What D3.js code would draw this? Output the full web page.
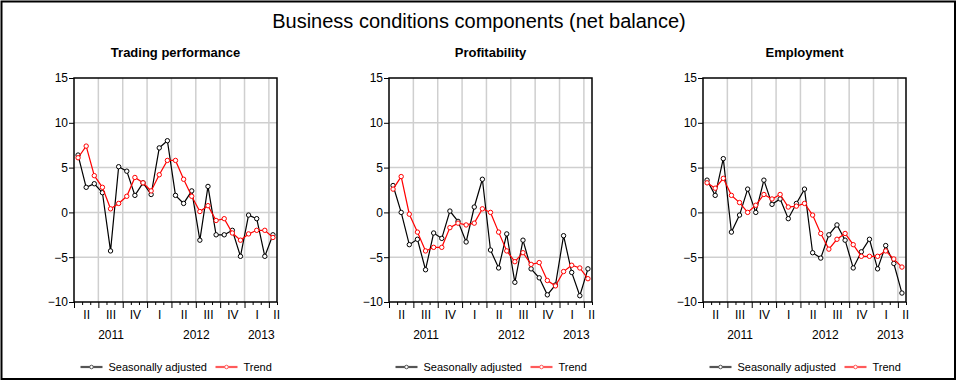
<!DOCTYPE html>
<meta charset="utf-8">
<style>
body { margin: 0; background: #fff; }
text { font-family: "Liberation Sans", Arial, sans-serif; fill: #000; }
.grid line { stroke: #cfcfcf; stroke-width: 1.5px; }
.axis path, .axis line { stroke: #000; }
.axis text { font-size: 12px; }
</style>
<svg width="959" height="382"></svg>
<script src="https://d3js.org/d3.v7.min.js"></script>
<script>

// monthly, April 2011 .. April 2013
var quarterLabels = ["II", "III", "IV", "I", "II", "III", "IV", "I", "II"];
var quarterPos = [1.5, 4.5, 7.5, 10.5, 13.5, 16.5, 19.5, 22.5, 24.9];
var years = ["2011", "2012", "2013"];
var yearPos = [4.5, 15, 23];
var yTicks = [-10, -5, 0, 5, 10, 15];

var tradingSA = [6.4, 2.8, 3.2, 2.2, -4.3, 5.1, 4.6, 1.9, 3.3, 2.0, 7.2, 8.0, 1.9,
  1.0, 2.4, -3.1, 2.9, -2.5, -2.5, -2.0, -4.9, -0.3, -0.7, -4.9, -2.5];
var tradingTrend = [6.1, 7.4, 4.1, 2.8, 0.4, 1.0, 1.8, 3.9, 3.3, 2.4, 4.2, 5.8, 5.8,
  3.7, 1.8, 0.1, 0.75, -0.9, -0.7, -2.3, -3.1, -2.4, -2.0, -2.0, -2.8];

var profitSA = [3.0, 0.0, -3.6, -3.0, -6.4, -2.3, -2.9, 0.15, -1.0, -3.3, 0.6, 3.7, -4.2,
  -6.2, -2.4, -7.8, -3.1, -6.3, -7.3, -9.2, -8.1, -2.6, -6.7, -9.3, -6.3];
var profitTrend = [2.6, 4.0, -0.2, -2.2, -4.3, -3.9, -3.9, -1.7, -1.2, -1.4, -1.2, 0.4, 0.0,
  -2.2, -4.3, -5.5, -4.5, -5.8, -5.6, -7.6, -8.2, -6.6, -5.9, -6.2, -7.4];

var employSA = [3.6, 1.9, 6.0, -2.2, -0.3, 2.6, 0.0, 3.6, 0.9, 1.5, -0.7, 1.0, 2.6,
  -4.5, -5.1, -2.5, -1.4, -3.1, -6.2, -4.4, -3.0, -6.3, -3.7, -5.7, -9.0];
var employTrend = [3.3, 2.7, 3.8, 1.9, 1.1, 0.0, 0.8, 2.0, 1.5, 2.0, 0.6, 0.7, 1.0,
  -0.3, -2.35, -4.1, -3.0, -2.35, -3.6, -4.9, -4.9, -4.9, -4.3, -5.2, -6.1];

var panels = [
  { title: "Trading performance", sa: tradingSA, trend: tradingTrend, left: 74 },
  { title: "Profitability", sa: profitSA, trend: profitTrend, left: 389 },
  { title: "Employment", sa: employSA, trend: employTrend, left: 703 }
];

var svg = d3.select("svg"),
    width = +svg.attr("width"),
    height = +svg.attr("height");

var plotW = 203, plotH = 224, plotTop = 78;

svg.append("rect")
    .attr("x", 1.5).attr("y", 1.5)
    .attr("width", 953.5).attr("height", 377.5)
    .attr("fill", "none").attr("stroke", "#000").attr("stroke-width", 2);

svg.append("text")
    .attr("x", 479).attr("y", 28)
    .attr("text-anchor", "middle")
    .style("font-size", "20px")
    .text("Business conditions components (net balance)");

var x = d3.scaleLinear().domain([0, 25]).range([0, plotW]);
var y = d3.scaleLinear().domain([-10, 15]).range([plotH, 0]);

var line = d3.line()
    .x(function(d, i) { return x(i + 0.5); })
    .y(function(d) { return y(d); });

panels.forEach(function(p) {
  var g = svg.append("g").attr("transform", "translate(" + p.left + "," + plotTop + ")");

  g.append("text")
      .attr("x", plotW / 2).attr("y", -21)
      .attr("text-anchor", "middle")
      .style("font-size", "13px").style("font-weight", "bold")
      .text(p.title);

  // grid
  var grid = g.append("g").attr("class", "grid");
  grid.selectAll(".v").data(d3.range(3, 25, 3)).enter().append("line")
      .attr("x1", x).attr("x2", x).attr("y1", 0).attr("y2", plotH);
  grid.selectAll(".h").data(yTicks.slice(1, -1)).enter().append("line")
      .attr("x1", 0).attr("x2", plotW).attr("y1", y).attr("y2", y);

  // axes
  g.append("g").attr("class", "axis")
      .call(d3.axisLeft(y).tickValues(yTicks).tickSize(5).tickFormat(d3.format("d")))
      .call(function(a) { a.select(".domain").remove(); })
      .selectAll("text").attr("x", -6);

  g.append("g").attr("class", "axis")
      .attr("transform", "translate(0," + plotH + ")")
      .call(d3.axisBottom(x).tickValues(d3.range(0, 26)).tickSizeInner(3).tickSizeOuter(0).tickFormat(""))
      .call(function(a) {
        a.select(".domain").remove();
        a.selectAll(".tick line").attr("y2", function(d) { return d % 3 === 0 ? 6 : 3; });
      });

  g.append("g").attr("class", "axis")
      .attr("transform", "translate(0," + (plotH + 5) + ")")
      .call(d3.axisBottom(x).tickValues(quarterPos).tickSize(0)
        .tickFormat(function(d, i) { return quarterLabels[i]; }))
      .call(function(a) { a.select(".domain").remove(); });

  g.append("g").attr("class", "axis")
      .attr("transform", "translate(0," + (plotH + 25) + ")")
      .call(d3.axisBottom(x).tickValues(yearPos).tickSize(0)
        .tickFormat(function(d, i) { return years[i]; }))
      .call(function(a) { a.select(".domain").remove(); });

  g.append("rect")
      .attr("width", plotW).attr("height", plotH)
      .attr("fill", "none").attr("stroke", "#000").attr("stroke-width", 1.5);

  // series
  [[p.sa, "#000"], [p.trend, "#ff0000"]].forEach(function(s) {
    g.append("path").datum(s[0])
        .attr("d", line)
        .attr("fill", "none").attr("stroke", s[1]).attr("stroke-width", 1.2);
    g.selectAll(null).data(s[0]).enter().append("circle")
        .attr("cx", function(d, i) { return x(i + 0.5); })
        .attr("cy", y)
        .attr("r", 2.2)
        .attr("fill", "#fff").attr("stroke", s[1]).attr("stroke-width", 1);
  });

  // legend
  var lg = g.append("g").attr("transform", "translate(" + (plotW / 2 - 95) + "," + (plotH + 65) + ")");
  [["Seasonally adjusted", "#555", 0], ["Trend", "#ff5a5a", 135]].forEach(function(l) {
    var it = lg.append("g").attr("transform", "translate(" + l[2] + ",0)");
    it.append("line").attr("x1", 0).attr("x2", 22).attr("y1", 0).attr("y2", 0)
        .attr("stroke", l[1]).attr("stroke-width", 2.2);
    it.append("circle").attr("cx", 11).attr("cy", 0).attr("r", 1.8)
        .attr("fill", "#fff").attr("stroke", l[1]).attr("stroke-width", 1);
    it.append("text").attr("x", 28).attr("y", 4)
        .style("font-size", "11px").text(l[0]);
  });
});

</script>
